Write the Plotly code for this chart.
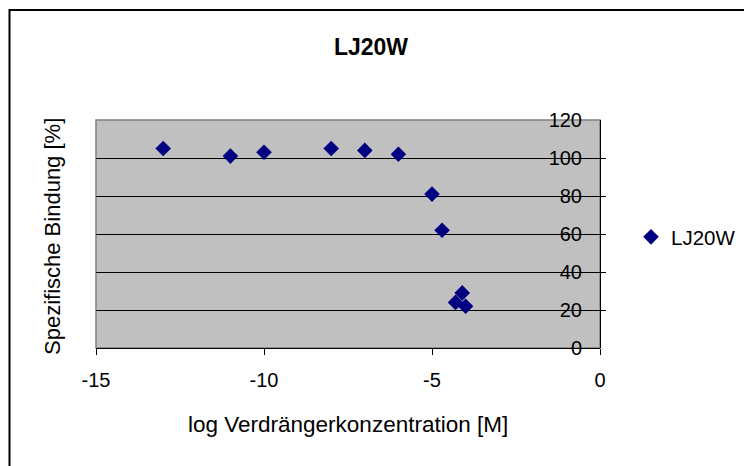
import plotly.graph_objects as go

x_vals = [-13, -11, -10, -8, -7, -6, -5, -4.7, -4.3, -4.1, -4.0]
y_vals = [105, 101, 103, 105, 104, 102, 81, 62, 24, 29, 22]
series_name = "LJ20W"
x_ticks = [-15, -10, -5, 0]
x_tick_labels = ["-15", "-10", "-5", "0"]
y_ticks = [0, 20, 40, 60, 80, 100, 120]

W, H = 744, 466
L, R, T, B = 96, 144, 120, 118
pw, ph = W - L - R, H - T - B

def px(xp):
    return (xp - L) / pw

def py(yp):
    return (H - B - yp) / ph

font = "Liberation Sans, Arial, sans-serif"

fig = go.Figure()
fig.add_trace(go.Scatter(
    x=x_vals, y=y_vals, mode="markers", name=series_name,
    marker=dict(symbol="diamond", size=12, color="#000080"),
))

fig.update_layout(
    width=W, height=H,
    margin=dict(l=L, r=R, t=T, b=B, autoexpand=False),
    paper_bgcolor="white",
    plot_bgcolor="#C0C0C0",
    font=dict(family=font, size=20, color="black"),
    title=dict(text="<b>LJ20W</b>", x=371 / W, xref="container", xanchor="center",
               y=1 - 47 / H, yanchor="middle", yref="container",
               font=dict(size=23, family=font)),
    showlegend=True,
    legend=dict(x=px(631), xanchor="left", y=py(237), yanchor="middle",
                font=dict(size=20.5), bgcolor="rgba(0,0,0,0)",
                itemwidth=30),
    xaxis=dict(range=[-15, 0], tickvals=x_ticks, ticktext=x_tick_labels,
               showgrid=False,
               zeroline=False, showline=True, linecolor="black", linewidth=1,
               ticks="outside", ticklen=6, tickcolor="black",
               ticklabelstandoff=8, tickfont=dict(size=20)),
    yaxis=dict(range=[0, 120], tickvals=y_ticks, side="left",
               anchor="free", position=1,
               showgrid=True, gridcolor="black",
               gridwidth=1, zeroline=False, showline=True, linecolor="black",
               linewidth=1, ticks="inside", ticklen=5, tickcolor="black",
               ticklabelstandoff=14, tickfont=dict(size=20)),
    annotations=[
        dict(text="Spezifische Bindung [%]", textangle=-90, x=px(52), y=py(237),
             xref="paper", yref="paper", showarrow=False,
             xanchor="center", yanchor="middle", font=dict(size=22)),
        dict(text="log Verdrängerkonzentration [M]", x=px(348), y=py(424),
             xref="paper", yref="paper", showarrow=False,
             xanchor="center", yanchor="middle", font=dict(size=22.5)),
    ],
    shapes=[
        dict(type="rect", xref="paper", yref="paper", x0=0, x1=1, y0=0, y1=1,
             line=dict(color="#808080", width=1.5), layer="below"),
        dict(type="rect", xref="paper", yref="paper", x0=px(9.5), x1=px(760),
             y0=py(480), y1=py(10), line=dict(color="black", width=2)),
    ],
)

fig.write_html("out.html")
